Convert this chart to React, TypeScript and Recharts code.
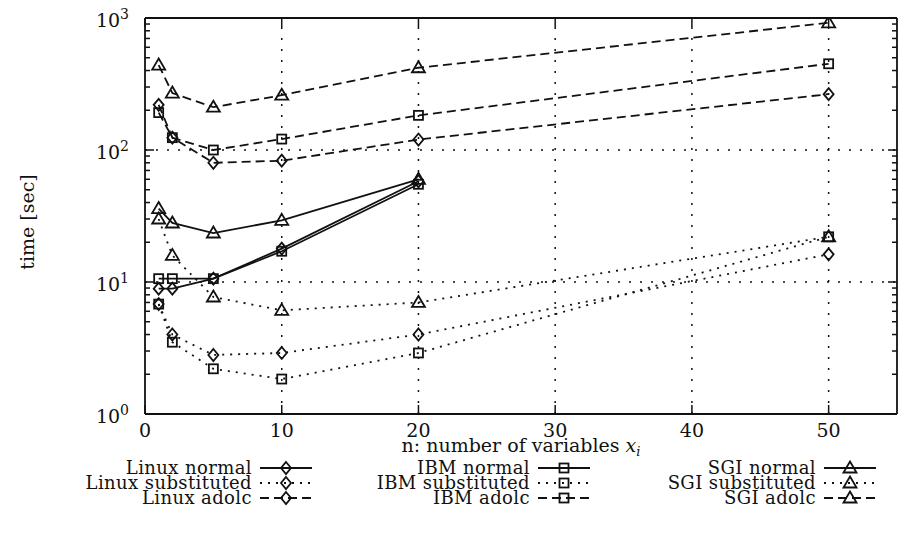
import React from 'react';
import { LineChart, Line, XAxis, YAxis, ReferenceLine } from 'recharts';

// ---------- data ----------
const nValues = [1, 2, 5, 10, 20, 50];

const linuxNormal = [8.9, 8.9, 10.6, 17.9, 58, null];
const linuxSubstituted = [6.8, 4.0, 2.8, 2.9, 4.0, 16.2];
const linuxAdolc = [220, 124, 80, 83, 120, 265];

const ibmNormal = [10.6, 10.6, 10.6, 17.1, 55, null];
const ibmSubstituted = [6.8, 3.5, 2.2, 1.84, 2.9, 22];
const ibmAdolc = [192, 124, 100, 121, 183, 450];

const sgiNormal = [36, 28, 23.5, 29.3, 60, null];
const sgiSubstituted = [30, 15.9, 7.7, 6.1, 7.0, 22];
const sgiAdolc = [440, 270, 211, 260, 420, 920];

const xTicks = [0, 10, 20, 30, 40, 50];
const yMajorTicks = [1, 10, 100, 1000];
const yMinorTicks = [2, 3, 4, 5, 6, 7, 8, 9, 20, 30, 40, 50, 60, 70, 80, 90, 200, 300, 400, 500, 600, 700, 800, 900];
const xGridValues = [10, 20, 30, 40, 50];
const yGridValues = [10, 100];

const xLabelText = 'n: number of variables ';
const yLabelText = 'time [sec]';

type Shape = 'diamond' | 'square' | 'triangle';
type Style = 'solid' | 'dotted' | 'dashed';

const series: { key: string; name: string; values: (number | null)[]; shape: Shape; style: Style; col: number; row: number }[] = [
  { key: 'linuxNormal', name: 'Linux normal', values: linuxNormal, shape: 'diamond', style: 'solid', col: 0, row: 0 },
  { key: 'linuxSubstituted', name: 'Linux substituted', values: linuxSubstituted, shape: 'diamond', style: 'dotted', col: 0, row: 1 },
  { key: 'linuxAdolc', name: 'Linux adolc', values: linuxAdolc, shape: 'diamond', style: 'dashed', col: 0, row: 2 },
  { key: 'ibmNormal', name: 'IBM normal', values: ibmNormal, shape: 'square', style: 'solid', col: 1, row: 0 },
  { key: 'ibmSubstituted', name: 'IBM substituted', values: ibmSubstituted, shape: 'square', style: 'dotted', col: 1, row: 1 },
  { key: 'ibmAdolc', name: 'IBM adolc', values: ibmAdolc, shape: 'square', style: 'dashed', col: 1, row: 2 },
  { key: 'sgiNormal', name: 'SGI normal', values: sgiNormal, shape: 'triangle', style: 'solid', col: 2, row: 0 },
  { key: 'sgiSubstituted', name: 'SGI substituted', values: sgiSubstituted, shape: 'triangle', style: 'dotted', col: 2, row: 1 },
  { key: 'sgiAdolc', name: 'SGI adolc', values: sgiAdolc, shape: 'triangle', style: 'dashed', col: 2, row: 2 },
];

const tableData = nValues.map((n, i) => {
  const row: Record<string, number | null> = { n };
  series.forEach((s) => {
    row[s.key] = s.values[i];
  });
  return row;
});

// ---------- styles ----------
const INK = '#111';
const FONT = 'DejaVu Serif';
const FS = 19;
const LEG_FS = 18;
const LW = 1.8;
const DASH: Record<Style, string | undefined> = { solid: undefined, dotted: '2 6', dashed: '9 5' };
const MAJOR = 9;
const MINOR = 5;
const X_TICK_MARGIN = 10;
const Y_TICK_MARGIN = 16;
const CHART_W = 898;
const CHART_H = 536;
const Y_AXIS_W = 145;
const RIGHT_AXIS_W = 1;
const allYTicks = [...yMajorTicks, ...yMinorTicks].sort((a, b) => a - b);

function Marker({ shape, cx, cy }: { shape: Shape; cx: number; cy: number }) {
  const common = { fill: 'none', stroke: INK, strokeWidth: LW };
  if (shape === 'diamond') {
    return <path d={`M${cx},${cy - 6}L${cx + 5},${cy}L${cx},${cy + 6}L${cx - 5},${cy}Z`} {...common} />;
  }
  if (shape === 'square') {
    return <rect x={cx - 4.5} y={cy - 4.5} width={9} height={9} {...common} />;
  }
  return <path d={`M${cx},${cy - 6.5}L${cx + 6.5},${cy + 4.5}L${cx - 6.5},${cy + 4.5}Z`} {...common} />;
}

const makeDot = (shape: Shape) => (p: any) => {
  if (p.cx == null || p.cy == null || p.value == null) return <g key={`d-${p.index}`} />;
  return (
    <g key={`d-${p.index}`}>
      <Marker shape={shape} cx={p.cx} cy={p.cy} />
    </g>
  );
};

const BottomTick = (p: any) => {
  const axisY = p.y - X_TICK_MARGIN;
  return (
    <g>
      <line x1={p.x} x2={p.x} y1={axisY} y2={axisY - MAJOR} stroke={INK} strokeWidth={1.5} />
      <text x={p.x} y={p.y + 13} textAnchor="middle" fontFamily={FONT} fontSize={FS} fill={INK}>
        {p.payload.value}
      </text>
    </g>
  );
};

const TopTick = (p: any) => (
  <line x1={p.x} x2={p.x} y1={p.y} y2={p.y + MAJOR} stroke={INK} strokeWidth={1.5} />
);

const LeftTick = (p: any) => {
  const axisX = p.x + Y_TICK_MARGIN;
  const v = p.payload.value;
  const major = yMajorTicks.includes(v);
  return (
    <g>
      <line x1={axisX} x2={axisX + (major ? MAJOR : MINOR)} y1={p.y} y2={p.y} stroke={INK} strokeWidth={1.5} />
      {major && (
        <text x={p.x} y={p.y + 9} textAnchor="end" fontFamily={FONT} fontSize={FS} fill={INK}>
          10
          <tspan dy={-8} fontSize={14}>
            {Math.round(Math.log10(v))}
          </tspan>
        </text>
      )}
    </g>
  );
};

const RightTick = (p: any) => {
  const v = p.payload.value;
  const major = yMajorTicks.includes(v);
  return <line x1={p.x} x2={p.x - (major ? MAJOR : MINOR)} y1={p.y} y2={p.y} stroke={INK} strokeWidth={1.5} />;
};

const renderXLabel = (props: any) => {
  const vb = props.viewBox;
  const cx = (Y_AXIS_W + CHART_W - RIGHT_AXIS_W) / 2;
  return (
    <text x={cx} y={vb.y + 38} textAnchor="middle" fontFamily={FONT} fontSize={FS} fill={INK}>
      {xLabelText}
      <tspan fontStyle="italic">x</tspan>
      <tspan fontStyle="italic" fontSize={13} dy={4}>i</tspan>
    </text>
  );
};

const renderYLabel = (props: any) => {
  const vb = props.viewBox;
  const cx = vb.x + 27;
  const cy = vb.y + vb.height / 2 + 6;
  return (
    <text
      x={cx}
      y={cy}
      transform={`rotate(-90, ${cx}, ${cy})`}
      textAnchor="middle"
      dominantBaseline="central"
      fontFamily={FONT}
      fontSize={FS}
      fill={INK}
    >
      {yLabelText}
    </text>
  );
};

// legend layout
const LEG_TEXT_RIGHT = [252, 530, 816];
const LEG_ROW_Y = [468, 483, 498];
const LEG_GAP = 8;
const LEG_SAMPLE = 52;

function LegendOverlay() {
  return (
    <svg width={CHART_W} height={CHART_H} style={{ position: 'absolute', left: 0, top: 0, pointerEvents: 'none' }}>
      {series.map((s) => {
        const xr = LEG_TEXT_RIGHT[s.col];
        const y = LEG_ROW_Y[s.row];
        const x1 = xr + LEG_GAP;
        const x2 = x1 + LEG_SAMPLE;
        return (
          <g key={s.key}>
            <text x={xr} y={y + 6} textAnchor="end" fontFamily={FONT} fontSize={LEG_FS} letterSpacing={0.4} fill={INK}>
              {s.name}
            </text>
            <line x1={x1} x2={x2} y1={y} y2={y} stroke={INK} strokeWidth={LW} strokeDasharray={DASH[s.style]} />
            <Marker shape={s.shape} cx={(x1 + x2) / 2} cy={y} />
          </g>
        );
      })}
    </svg>
  );
}

export default function App() {
  return (
    <div style={{ position: 'absolute', left: 0, top: 0, width: CHART_W, height: CHART_H, background: '#fff' }}>
      <LineChart width={CHART_W} height={CHART_H} data={tableData} margin={{ top: 17, right: 0, bottom: 0, left: 0 }}>
        <XAxis
          xAxisId="b"
          dataKey="n"
          type="number"
          domain={[0, 55]}
          ticks={xTicks}
          interval={0}
          height={122}
          allowDataOverflow
          tickLine={false}
          tickSize={0}
          tickMargin={X_TICK_MARGIN}
          axisLine={{ stroke: INK, strokeWidth: LW }}
          tick={<BottomTick />}
          label={{ content: renderXLabel }}
        />
        <XAxis
          xAxisId="t"
          orientation="top"
          dataKey="n"
          type="number"
          domain={[0, 55]}
          ticks={xTicks}
          interval={0}
          height={1}
          allowDataOverflow
          tickLine={false}
          tickSize={0}
          tickMargin={0}
          axisLine={{ stroke: INK, strokeWidth: LW }}
          tick={<TopTick />}
        />
        <YAxis
          yAxisId="l"
          type="number"
          scale="log"
          domain={[1, 1000]}
          ticks={allYTicks}
          interval={0}
          width={Y_AXIS_W}
          allowDataOverflow
          tickLine={false}
          tickSize={0}
          tickMargin={Y_TICK_MARGIN}
          axisLine={{ stroke: INK, strokeWidth: LW }}
          tick={<LeftTick />}
          label={{ content: renderYLabel }}
        />
        <YAxis
          yAxisId="r"
          orientation="right"
          type="number"
          scale="log"
          domain={[1, 1000]}
          ticks={allYTicks}
          interval={0}
          width={RIGHT_AXIS_W}
          allowDataOverflow
          tickLine={false}
          tickSize={0}
          tickMargin={0}
          axisLine={{ stroke: INK, strokeWidth: LW }}
          tick={<RightTick />}
        />
        {xGridValues.map((v) => (
          <ReferenceLine key={`gx${v}`} xAxisId="b" yAxisId="l" x={v} stroke={INK} strokeWidth={1.5} strokeDasharray="2 9" />
        ))}
        {yGridValues.map((v) => (
          <ReferenceLine key={`gy${v}`} xAxisId="b" yAxisId="l" y={v} stroke={INK} strokeWidth={1.5} strokeDasharray="2 9" />
        ))}
        {series.map((s) => (
          <Line
            key={s.key}
            xAxisId="b"
            yAxisId="l"
            type="linear"
            dataKey={s.key}
            name={s.name}
            stroke={INK}
            strokeWidth={LW}
            strokeDasharray={DASH[s.style]}
            dot={makeDot(s.shape)}
            activeDot={false}
            connectNulls={false}
            isAnimationActive={false}
          />
        ))}
      </LineChart>
      <LegendOverlay />
    </div>
  );
}
